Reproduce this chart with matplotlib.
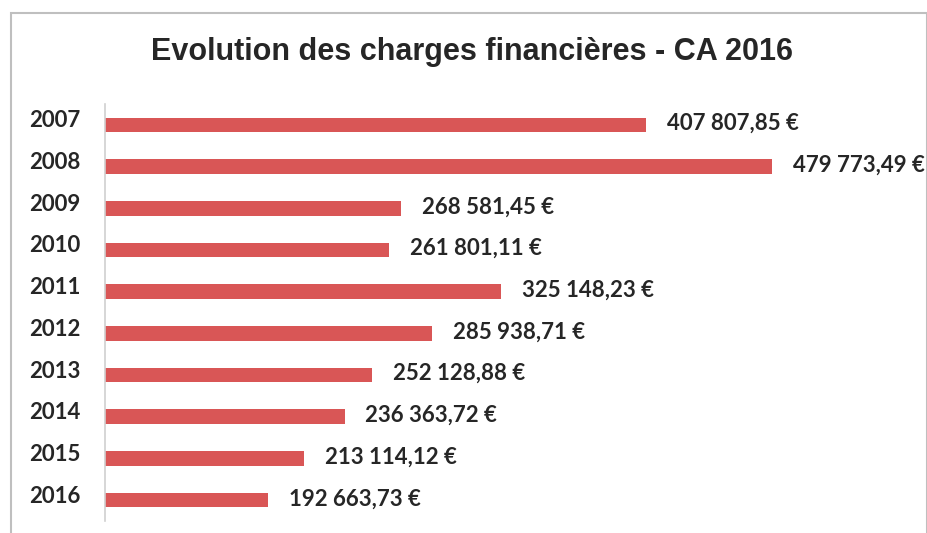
import matplotlib
matplotlib.use('Agg')
import matplotlib.pyplot as plt
from matplotlib.patches import Rectangle
from matplotlib.transforms import ScaledTranslation

# data
years = ['2007', '2008', '2009', '2010', '2011', '2012', '2013', '2014', '2015', '2016']
charges = [407807.85, 479773.49, 268581.45, 261801.11, 325148.23,
           285938.71, 252128.88, 236363.72, 213114.12, 192663.73]
value_labels = ['407 807,85 €', '479 773,49 €', '268 581,45 €', '261 801,11 €', '325 148,23 €',
                '285 938,71 €', '252 128,88 €', '236 363,72 €', '213 114,12 €', '192 663,73 €']
title = 'Evolution des charges financières - CA 2016'

bar_color = '#d95656'
text_color = '#262626'

fig = plt.figure(figsize=(9.27, 5.33), dpi=100)
fig.patch.set_facecolor('white')

# outer chart frame
fig.patches.append(Rectangle((11/927, -0.05), (927-11)/927, 1 - 13/533 + 0.05,
                             transform=fig.transFigure, fill=False,
                             edgecolor='#bfbfbf', linewidth=1.5))

ax = fig.add_axes([105/927, 1 - 521/533, 703/927, 417/533])
pos = list(range(len(years)))
ax.barh(pos, charges, height=0.35, color=bar_color)
ax.set_xlim(100000, 500000)
ax.set_ylim(len(years) - 0.5, -0.5)

for p, v, lab in zip(pos, charges, value_labels):
    ax.annotate(lab, (v, p), xytext=(15, 1), textcoords='offset points',
                ha='left', va='center', fontsize=16, fontweight='bold',
                family='Lato', color=text_color, annotation_clip=False)

ax.set_yticks(pos)
ax.set_yticklabels(years, fontsize=16, fontweight='bold', family='Lato', color=text_color)
ax.tick_params(axis='y', length=0, pad=18)
for t in ax.yaxis.get_majorticklabels():
    t.set_transform(t.get_transform() + ScaledTranslation(0, 6/100, fig.dpi_scale_trans))
ax.set_xticks([])
for s in ['top', 'right', 'bottom']:
    ax.spines[s].set_visible(False)
ax.spines['left'].set_color('#d0d0d0')
ax.spines['left'].set_linewidth(1.2)

fig.text(472/927, 1 - 52/533, title, ha='center', va='center',
         fontsize=22, fontweight='bold', family='Liberation Sans', color=text_color)

fig.savefig('out.png', dpi=100)
